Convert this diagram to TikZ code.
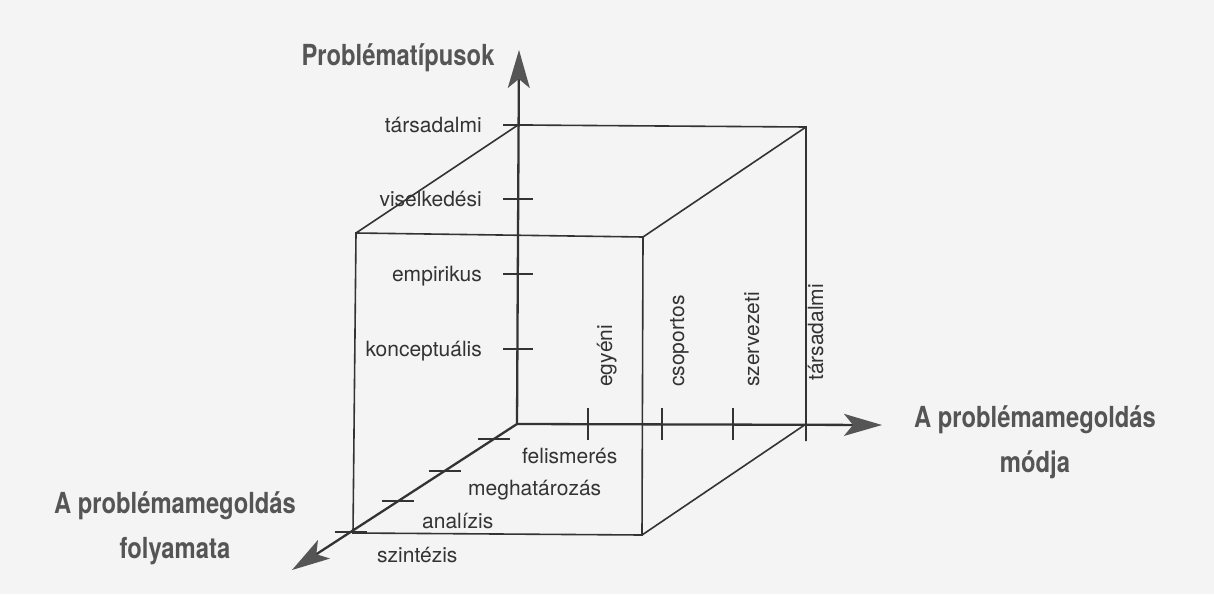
\documentclass[tikz,border=0pt]{standalone}
\usepackage{fontspec}
\setmainfont{TeX Gyre Heros}
\newfontfamily\titlefont[FakeStretch=0.82]{TeX Gyre Heros}
\usetikzlibrary{arrows.meta,calc}
\definecolor{ink}{HTML}{333333}
\definecolor{headink}{HTML}{555555}
\definecolor{paper}{HTML}{F4F4F4}
\begin{document}
\begin{tikzpicture}[x=1pt,y=-1pt,
  axis/.style={draw=ink,line width=2.3pt,-{Stealth[length=38pt,width=22pt,inset=9pt,color=headink]}},
  edge/.style={draw=ink,line width=1.6pt},
  tickmark/.style={draw=ink,line width=2pt},
  lbl/.style={text=ink,font=\fontsize{21}{25}\selectfont,inner sep=0pt},
  title/.style={text=headink,font=\titlefont\bfseries\fontsize{29}{45}\selectfont,align=center,inner sep=0pt}]

% page
\fill[paper] (0,0) rectangle (1214,594);
\useasboundingbox (0,0) rectangle (1214,594);

% origin and axis ends
\coordinate (O) at (517,424);
\coordinate (Ztip) at (519,50);
\coordinate (Xtip) at (882,425);
\coordinate (Ytip) at (292,570);

% cube corners
\coordinate (BTL) at (518,125);
\coordinate (BTR) at (806,127);
\coordinate (BBR) at (806,424);
\coordinate (BRend) at (806,441);
\coordinate (FTL) at (356,233);
\coordinate (FTR) at (643,237);
\coordinate (FBL) at (353,533);
\coordinate (FBR) at (642,535);

% cube edges
\draw[edge] (BTL) -- (BTR) -- (BRend);
\draw[edge] (BTL) -- (FTL);
\draw[edge] (BTR) -- (FTR);
\draw[edge] (FTL) -- (FBL) -- (FBR) -- (FTR) -- cycle;
\draw[edge] (FBR) -- (BBR);

% axes
\draw[axis] (O) -- (Ztip);
\draw[axis] (O) -- (Xtip);
\draw[axis] (O) -- (Ytip);

% ticks on the vertical axis
\foreach \n/\yy in {1/349,2/274,3/199,4/125}
  \coordinate (z\n) at (518,\yy);
\foreach \n in {1,...,4}
  \draw[tickmark] ($(z\n)+(-15,0)$) -- ($(z\n)+(15,0)$);

% ticks on the horizontal axis
\foreach \n/\xx in {1/588,2/662,3/733}
  \coordinate (x\n) at (\xx,424);
\foreach \n in {1,2,3}
  \draw[tickmark] ($(x\n)+(0,-16)$) -- ($(x\n)+(0,16)$);

% ticks on the depth axis
\foreach \n/\t in {1/0.103,2/0.322,3/0.527,4/0.74}
  \coordinate (y\n) at ($(O)!\t!(Ytip)$);
\foreach \n in {1,...,4}
  \draw[tickmark] ($(y\n)+(-16,0)$) -- ($(y\n)+(16,0)$);

% labels of the vertical axis
\node[lbl,anchor=base east] (lz1) at (482,356) {konceptuális};
\node[lbl,anchor=base east] (lz2) at (482,281) {empirikus};
\node[lbl,anchor=base east] (lz3) at (482,206) {viselkedési};
\node[lbl,anchor=base east] (lz4) at (482,132) {társadalmi};

% labels of the horizontal axis
\node[lbl,rotate=90,anchor=base west] (lx1) at (612,387) {egyéni};
\node[lbl,rotate=90,anchor=base west] (lx2) at (684,387) {csoportos};
\node[lbl,rotate=90,anchor=base west] (lx3) at (759,387) {szervezeti};
\node[lbl,rotate=90,anchor=base west] (lx4) at (823,381) {társadalmi};

% labels of the depth axis
\node[lbl,anchor=base west] (ly1) at (522,463) {felismerés};
\node[lbl,anchor=base west] (ly2) at (468,495) {meghatározás};
\node[lbl,anchor=base west] (ly3) at (422,528) {analízis};
\node[lbl,anchor=base west] (ly4) at (377,562) {szintézis};

% axis titles (base anchor sits on the last line)
\node[title,anchor=base] (tz) at (398,66) {Problématípusok};
\node[title,anchor=base] (tx) at (1035,472) {A problémamegoldás\\módja};
\node[title,anchor=base] (ty) at (175,558) {A problémamegoldás\\folyamata};
\end{tikzpicture}
\end{document}
